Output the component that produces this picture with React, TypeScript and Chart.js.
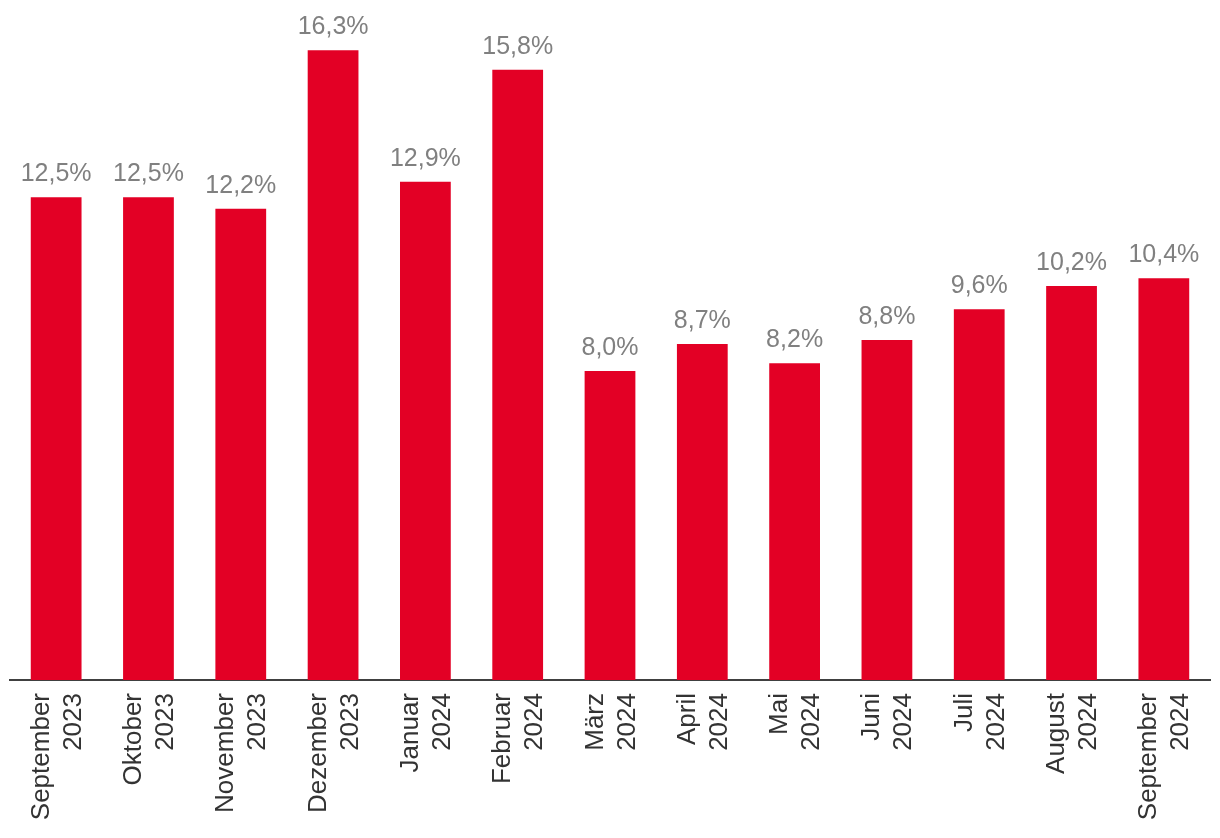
import React, { useEffect, useRef } from "react";
import { Chart, registerables } from "chart.js";

Chart.register(...registerables);

const months = ["September", "Oktober", "November", "Dezember", "Januar", "Februar", "März", "April", "Mai", "Juni", "Juli", "August", "September"];
const years = ["2023", "2023", "2023", "2023", "2024", "2024", "2024", "2024", "2024", "2024", "2024", "2024", "2024"];
const values = [12.5, 12.5, 12.2, 16.3, 12.9, 15.8, 8.0, 8.7, 8.2, 8.8, 9.6, 10.2, 10.4];

const FONT = "'Liberation Sans', Arial, Helvetica, sans-serif";
const BAR_COLOR = "#E30025";
const LABEL_COLOR = "#808080";
const TICK_COLOR = "#333333";

const valueLabelPlugin = {
  id: "valueLabels",
  afterDatasetsDraw(chart: any) {
    const ctx = chart.ctx;
    const meta = chart.getDatasetMeta(0);
    ctx.save();
    ctx.font = `25px ${FONT}`;
    ctx.fillStyle = LABEL_COLOR;
    ctx.textAlign = "center";
    ctx.textBaseline = "alphabetic";
    meta.data.forEach((bar: any, i: number) => {
      const txt = values[i].toFixed(1).replace(".", ",") + "%";
      ctx.fillText(txt, bar.x, bar.y - 16);
    });
    ctx.restore();
  },
};

// Rotated two-line category labels (month / year), centred on each bar
const tickLabelPlugin = {
  id: "rotatedTickLabels",
  afterDraw(chart: any) {
    const ctx = chart.ctx;
    const xScale = chart.scales.x;
    const y0 = chart.chartArea.bottom + 13;
    ctx.save();
    ctx.font = `26px ${FONT}`;
    ctx.fillStyle = TICK_COLOR;
    ctx.textAlign = "right";
    ctx.textBaseline = "alphabetic";
    months.forEach((m, i) => {
      const cx = xScale.getPixelForValue(i);
      ctx.save();
      ctx.translate(cx, y0);
      ctx.rotate(-Math.PI / 2);
      ctx.fillText(m, 0, -7.5);
      ctx.fillText(years[i], 0, 24.5);
      ctx.restore();
    });
    ctx.restore();
  },
};

export default function App() {
  const ref = useRef<HTMLCanvasElement>(null);
  useEffect(() => {
    if (!ref.current) return;
    const chart = new Chart(ref.current, {
      type: "bar",
      data: {
        labels: months.map((m, i) => `${m} ${years[i]}`),
        datasets: [
          {
            data: values,
            backgroundColor: BAR_COLOR,
            borderWidth: 0,
            categoryPercentage: 1,
            barPercentage: 0.55,
          },
        ],
      },
      options: {
        responsive: false,
        animation: false,
        layout: { padding: { left: 10, right: 10, top: 4, bottom: 158 } },
        plugins: {
          legend: { display: false },
          tooltip: { enabled: false },
        },
        scales: {
          x: {
            grid: { display: false, drawTicks: false },
            border: { display: true, color: "#404040", width: 2 },
            ticks: { display: false },
          },
          y: {
            display: false,
            min: 0,
            max: 17.5,
          },
        },
      },
      plugins: [valueLabelPlugin, tickLabelPlugin],
    });
    return () => chart.destroy();
  }, []);
  return (
    <canvas
      ref={ref}
      width={1220}
      height={838}
      style={{ position: "absolute", top: 0, left: 0, display: "block", width: 1220, height: 838 }}
    />
  );
}
